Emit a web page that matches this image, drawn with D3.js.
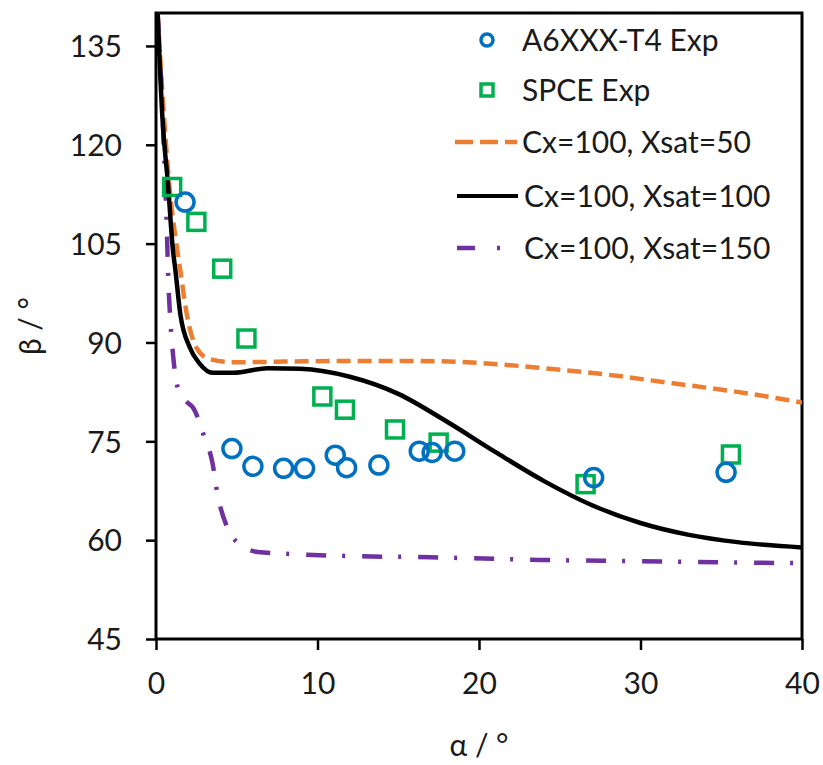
<!DOCTYPE html>
<html><head><meta charset="utf-8">
<script src="https://cdn.jsdelivr.net/npm/d3@7"></script>
<style>body{margin:0;background:#fff;} text{font-family:Lato,"Open Sans",sans-serif;fill:#1a1a1a;}</style>
</head><body><svg id="c" width="823" height="765"></svg>
<script>
const xTicks = [0,10,20,30,40];
const yTicks = [45,60,75,90,105,120,135];
const seriesNames = ["A6XXX-T4 Exp","SPCE Exp","Cx=100, Xsat=50","Cx=100, Xsat=100","Cx=100, Xsat=150"];
const a6Alpha = [1.8,4.7,6.0,7.9,9.2,11.1,11.8,13.8,16.3,17.1,18.5,27.1,35.3];
const a6Beta  = [111.3,73.9,71.2,70.9,70.9,72.9,71.0,71.4,73.5,73.3,73.5,69.5,70.3];
const spAlpha = [1.0,2.5,4.1,5.6,10.3,11.7,14.8,17.5,26.6,35.6];
const spBeta  = [113.6,108.3,101.2,90.6,81.8,79.8,76.8,74.8,68.5,73.0];
const x50Alpha = [0.1,0.5,0.9,1.2,1.5,1.9,2.5,3.3,4.8,8,12,16,20,24,28,32,36,40];
const x50Beta  = [140,124,112,106,101,94.4,89.2,87.5,87.0,87.1,87.2,87.2,86.9,86.1,85.1,83.8,82.5,80.9];
const x100Alpha = [0.1,0.4,0.75,1.05,1.2,1.5,2.1,2.7,3.5,4.8,6.9,8.9,12,15,18,21,24,27,30,33,36,40];
const x100Beta  = [140,124,113.8,104,101,94.4,89.2,86.8,85.4,85.4,86.1,86.0,84.8,82.2,78.0,73.4,69.0,65.3,62.6,60.8,59.7,58.9];
const x150Alpha = [0.1,0.56,0.68,0.75,0.9,1.1,1.4,1.9,2.3,3.0,3.5,3.8,4.4,5.1,6.3,8.3,11.8,17,23.8,30,40];
const x150Beta  = [140,115,106.5,100.4,93,87,82.7,81,80.1,75.6,71.7,67.1,62.0,59.5,58.2,57.9,57.6,57.4,57.0,56.8,56.5];

const colors = {blue:"#0070C0", green:"#00B050", orange:"#ED7D31", black:"#000", purple:"#7030A0"};
const svg = d3.select("#c");
const L=156, R=802, T=13, B=639;
const x = d3.scaleLinear().domain([0,40]).range([L,R]);
const y = d3.scaleLinear().domain([45,140]).range([B,T]);

const xa = svg.append("g").attr("transform",`translate(0,${B})`)
  .call(d3.axisBottom(x).tickValues(xTicks).tickSize(11).tickPadding(23));
const ya = svg.append("g").attr("transform",`translate(${L},0)`)
  .call(d3.axisLeft(y).tickValues(yTicks).tickSize(10).tickPadding(24));
[xa,ya].forEach(g=>{
  g.select(".domain").remove();
  g.selectAll("line").attr("stroke","#000").attr("stroke-width",2.5);
  g.selectAll("text").style("font-size","30px").style("font-family","Lato,sans-serif").attr("fill","#1a1a1a");
});
ya.selectAll("text").attr("dy","0.36em");
svg.append("rect").attr("x",L).attr("y",T).attr("width",R-L).attr("height",B-T)
  .attr("fill","none").attr("stroke","#000").attr("stroke-width",3);

svg.append("clipPath").attr("id","pc").append("rect")
  .attr("x",L).attr("y",T-2).attr("width",R-L).attr("height",B-T+2);
const plot = svg.append("g").attr("clip-path","url(#pc)");
const zip = (a,b)=>a.map((v,i)=>[v,b[i]]);
const curve = d3.line().x(d=>x(d[0])).y(d=>y(d[1])).curve(d3.curveMonotoneX);

plot.append("path").attr("d",curve(zip(x50Alpha,x50Beta))).attr("fill","none")
  .attr("stroke",colors.orange).attr("stroke-width",4.5).attr("stroke-dasharray","14,7");
plot.append("path").attr("d",curve(zip(x150Alpha,x150Beta))).attr("fill","none")
  .attr("stroke",colors.purple).attr("stroke-width",4.5).attr("stroke-dasharray","20,16,3,17");
plot.append("path").attr("d",curve(zip(x100Alpha,x100Beta))).attr("fill","none")
  .attr("stroke",colors.black).attr("stroke-width",4.5);

const rs=9, sq=17;
plot.selectAll("rect.sp").data(zip(spAlpha,spBeta)).join("rect").attr("class","sp")
  .attr("x",d=>x(d[0])-sq/2).attr("y",d=>y(d[1])-sq/2).attr("width",sq).attr("height",sq)
  .attr("fill","none").attr("stroke",colors.green).attr("stroke-width",3.5);
plot.selectAll("circle.a6").data(zip(a6Alpha,a6Beta)).join("circle").attr("class","a6")
  .attr("cx",d=>x(d[0])).attr("cy",d=>y(d[1])).attr("r",rs)
  .attr("fill","none").attr("stroke",colors.blue).attr("stroke-width",3.5);

// legend
const lg = svg.append("g");
const rows=[40,90,142,196,248];
lg.append("circle").attr("cx",487).attr("cy",rows[0]).attr("r",6).attr("fill","none").attr("stroke",colors.blue).attr("stroke-width",3.5);
lg.append("rect").attr("x",481).attr("y",rows[1]-6).attr("width",12).attr("height",12).attr("fill","none").attr("stroke",colors.green).attr("stroke-width",3.5);
lg.append("line").attr("x1",455).attr("x2",517).attr("y1",rows[2]).attr("y2",rows[2]).attr("stroke",colors.orange).attr("stroke-width",4.5).attr("stroke-dasharray","18,7");
lg.append("line").attr("x1",457).attr("x2",518).attr("y1",rows[3]).attr("y2",rows[3]).attr("stroke",colors.black).attr("stroke-width",4);
lg.append("line").attr("x1",457).attr("x2",500).attr("y1",rows[4]).attr("y2",rows[4]).attr("stroke",colors.purple).attr("stroke-width",4.5).attr("stroke-dasharray","18,22,3,40");
const tx=[522,522,522,524,524];
seriesNames.forEach((n,i)=>{
  lg.append("text").attr("x",tx[i]).attr("y",rows[i]).attr("dy","0.35em").style("font-size","30px").text(n);
});

svg.append("text").attr("x",479).attr("y",745).attr("text-anchor","middle").attr("dy","0.35em").style("font-size","30px").text("α / °");
svg.append("text").attr("transform","translate(30,326) rotate(-90)").attr("text-anchor","middle").attr("dy","0.35em").style("font-size","30px").text("β / °");
</script></body></html>
